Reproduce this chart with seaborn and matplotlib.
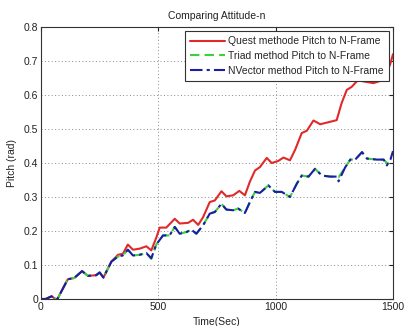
import matplotlib
matplotlib.use("Agg")
import matplotlib.pyplot as plt
import seaborn as sns
import pandas as pd

# Quest method pitch estimate (rad) versus time (s)
quest_t = [0, 20, 45, 62, 70, 114, 142, 175, 200, 235, 250, 266, 300, 328, 349, 370, 392, 420, 449, 470,
           491, 506, 534, 570, 591, 627, 648, 670, 691, 719, 741, 769, 790, 819, 845, 869, 890, 912, 933, 962,
           983, 1011, 1033, 1061, 1083, 1111, 1133, 1161, 1190, 1225, 1260, 1281, 1303, 1324, 1351, 1374, 1416,
           1440, 1473, 1487, 1500]
quest_pitch = [0, 0, 0.008, 0, 0, 0.058, 0.062, 0.082, 0.068, 0.07, 0.078, 0.063, 0.11, 0.13, 0.133, 0.16,
               0.145, 0.148, 0.155, 0.143, 0.18, 0.21, 0.21, 0.236, 0.222, 0.224, 0.233, 0.218, 0.241, 0.285,
               0.29, 0.317, 0.302, 0.305, 0.318, 0.305, 0.345, 0.378, 0.388, 0.415, 0.40, 0.406, 0.416, 0.408,
               0.439, 0.488, 0.495, 0.525, 0.514, 0.52, 0.526, 0.576, 0.615, 0.624, 0.644, 0.64, 0.635, 0.64,
               0.674, 0.688, 0.72]

# Triad and NVector estimates share the same sample times
vec_t = [0, 20, 45, 62, 70, 114, 142, 175, 200, 235, 250, 266, 300, 328, 349, 370, 392, 420, 449, 470,
         491, 520, 548, 570, 591, 620, 641, 662, 691, 719, 741, 769, 790, 819, 840, 869, 890, 912, 933, 969,
         997, 1026, 1061, 1090, 1111, 1140, 1168, 1197, 1232, 1261, 1268, 1296, 1318, 1339, 1368, 1389, 1432,
         1460, 1474, 1489, 1500]
triad_pitch = [0, 0, 0.008, 0, 0, 0.058, 0.062, 0.082, 0.068, 0.07, 0.078, 0.063, 0.11, 0.125, 0.128, 0.145,
               0.128, 0.13, 0.135, 0.118, 0.16, 0.187, 0.187, 0.212, 0.192, 0.197, 0.204, 0.192, 0.217, 0.251,
               0.256, 0.28, 0.263, 0.261, 0.266, 0.253, 0.285, 0.315, 0.312, 0.334, 0.315, 0.315, 0.30, 0.339,
               0.363, 0.36, 0.383, 0.363, 0.36, 0.36, 0.358, 0.387, 0.41, 0.41, 0.432, 0.413, 0.41, 0.41,
               0.40, 0.40, 0.405]
nvector_pitch = [0, 0, 0.008, 0, 0, 0.058, 0.062, 0.082, 0.068, 0.07, 0.078, 0.063, 0.11, 0.125, 0.128, 0.145,
                 0.128, 0.13, 0.135, 0.12, 0.16, 0.187, 0.187, 0.212, 0.192, 0.197, 0.204, 0.192, 0.217, 0.251,
                 0.256, 0.28, 0.263, 0.261, 0.266, 0.253, 0.285, 0.315, 0.312, 0.334, 0.315, 0.315, 0.30, 0.339,
                 0.363, 0.36, 0.383, 0.363, 0.36, 0.36, 0.346, 0.387, 0.41, 0.41, 0.432, 0.413, 0.41, 0.41,
                 0.393, 0.41, 0.435]

labels = ["Quest methode Pitch to N-Frame", "Triad method Pitch to N-Frame", "NVector method Pitch to N-Frame"]
x_ticks = [0, 500, 1000, 1500]
y_ticks = [0, 0.1, 0.2, 0.3, 0.4, 0.5, 0.6, 0.7, 0.8]
y_ticklabels = ["0", "0.1", "0.2", "0.3", "0.4", "0.5", "0.6", "0.7", "0.8"]

sns.set_style("white")
plt.rcParams["font.family"] = ["Liberation Sans", "DejaVu Sans"]

fig = plt.figure(figsize=(4.05, 3.26), dpi=100, facecolor="white")
ax = fig.add_axes([41 / 405, 27 / 326, 352 / 405, 272 / 326])

df_q = pd.DataFrame({"t": quest_t, "p": quest_pitch})
df_tr = pd.DataFrame({"t": vec_t, "p": triad_pitch})
df_nv = pd.DataFrame({"t": vec_t, "p": nvector_pitch})

sns.lineplot(data=df_q, x="t", y="p", ax=ax, color="#e02a2a", lw=1.5, label=labels[0])
sns.lineplot(data=df_tr, x="t", y="p", ax=ax, color="#3ad23a", lw=1.5, linestyle=(0, (4.5, 2.5)), label=labels[1])
sns.lineplot(data=df_nv, x="t", y="p", ax=ax, color="#1c1ca8", lw=1.5, linestyle=(0, (6, 2, 1.5, 2)), label=labels[2])

ax.set_xlim(0, 1500)
ax.set_ylim(0, 0.8)
ax.set_xticks(x_ticks)
ax.set_yticks(y_ticks)
ax.set_yticklabels(y_ticklabels)
ax.tick_params(direction="in", length=3, labelsize=7.5, top=True, right=True, colors="#222222", pad=2)
ax.grid(True, linestyle=(0, (1, 2.5)), color="#888888", linewidth=0.7)
for s in ax.spines.values():
    s.set_color("#333333")
    s.set_linewidth(0.8)

ax.set_title("Comparing Attitude-n", fontsize=7.5, color="#222222", pad=6)
ax.set_xlabel("Time(Sec)", fontsize=7.5, color="#222222", labelpad=4)
ax.set_ylabel("Pitch (rad)", fontsize=7.5, color="#222222", labelpad=5)

leg = ax.legend(loc="upper right", fontsize=7.5, frameon=True, fancybox=False, borderaxespad=0.4,
                handlelength=3.3, handletextpad=0.3, borderpad=0.5, labelspacing=0.45, framealpha=1)
leg.get_frame().set_edgecolor("#333333")
leg.get_frame().set_linewidth(0.8)

fig.savefig("out.png", dpi=100, facecolor="white")
